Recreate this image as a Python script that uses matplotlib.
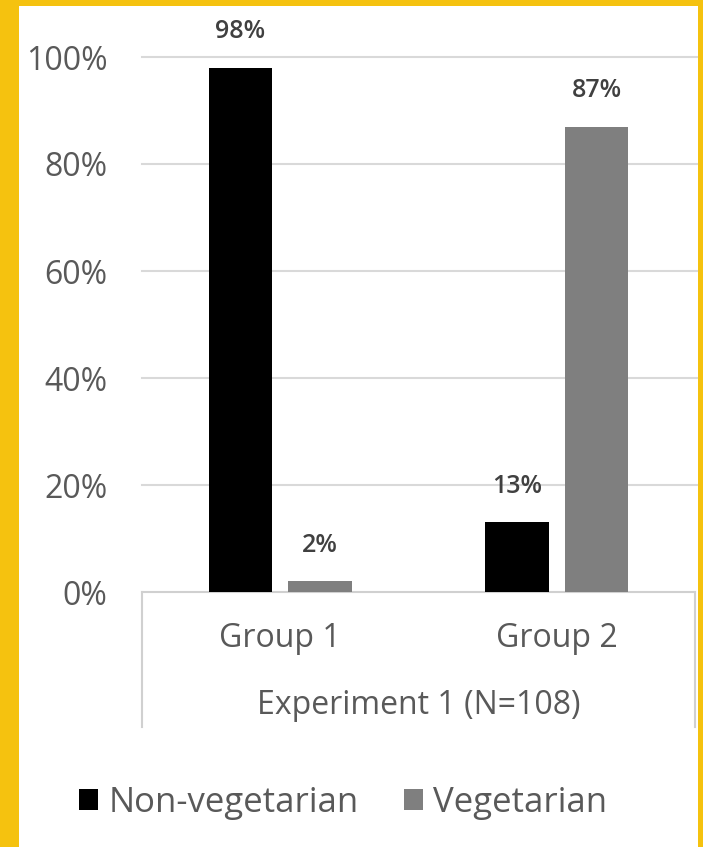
import matplotlib
matplotlib.use("Agg")
import matplotlib.pyplot as plt
from matplotlib.patches import Rectangle, Patch
import numpy as np

groups = ["Group 1", "Group 2"]
series_names = ["Non-vegetarian", "Vegetarian"]
non_veg = [98, 13]
veg = [2, 87]
y_ticks = [0, 20, 40, 60, 80, 100]
y_tick_labels = ["0%", "20%", "40%", "60%", "80%", "100%"]
experiment_label = "Experiment 1 (N=108)"

W, H = 703, 847
DPI = 100
fig = plt.figure(figsize=(W / DPI, H / DPI), dpi=DPI, facecolor="#F5C20F")
plt.rcParams["font.family"] = ["Open Sans", "DejaVu Sans"]

# white card inside the yellow frame
fig.patches.append(Rectangle((19 / W, 0), (698 - 19) / W, (847 - 6) / H,
                             transform=fig.transFigure, facecolor="white",
                             edgecolor="none", zorder=-10))

# axes placement (pixels)
x0, x1 = 142, 695
y_zero, y_top = 592, 57
ax = fig.add_axes([x0 / W, (H - y_zero) / H, (x1 - x0) / W, (y_zero - y_top) / H])
ax.set_facecolor("none")
ax.set_zorder(1)

text_col = "#595959"
label_col = "#404040"
colors = ["#000000", "#7f7f7f"]

x = np.arange(len(groups))
bw = 0.229
off = 0.144
b1 = ax.bar(x - off, non_veg, bw, color=colors[0], zorder=3)
b2 = ax.bar(x + off, veg, bw, color=colors[1], zorder=3)

for bars, vals in ((b1, non_veg), (b2, veg)):
    for rect, v in zip(bars, vals):
        ax.annotate(f"{v}%", (rect.get_x() + rect.get_width() / 2, v),
                    xytext=(0, 26), textcoords="offset points",
                    ha="center", va="center", fontsize=18, color=label_col,
                    fontweight="semibold", annotation_clip=False)

ax.set_xlim(-0.5, 1.5)
ax.set_ylim(0, 100)
ax.set_yticks(y_ticks)
ax.set_yticklabels(y_tick_labels)
ax.tick_params(axis="y", length=0, pad=25, labelsize=23, labelcolor=text_col)
ax.set_xticks([])
for s in ax.spines.values():
    s.set_visible(False)

# gridlines
for t in y_ticks[1:]:
    ax.plot([-0.5, 1.5 + 2 / 276.5], [t, t], color="#d9d9d9", lw=1.5,
            zorder=1, clip_on=False)
# baseline and category box
ax.plot([-0.5, 1.5], [0, 0], color="#d0d0d0", lw=1.5, zorder=2, clip_on=False)
box_bottom = (y_zero - 727) / (y_zero - y_top)
tr = ax.get_xaxis_transform()
for xv in (-0.5, 1.5):
    ax.plot([xv, xv], [0, box_bottom], color="#d0d0d0", lw=1.5,
            transform=tr, clip_on=False)

for xi, g in zip(x, groups):
    ax.text(xi, (y_zero - 638) / (y_zero - y_top), g, transform=tr,
            ha="center", va="center", fontsize=23, color=text_col)
ax.text(0.5, (y_zero - 705) / (y_zero - y_top), experiment_label, transform=tr,
        ha="center", va="center", fontsize=23, color=text_col)

handles = [Patch(facecolor=c, edgecolor="none") for c in colors]
fig.legend(handles, series_names, loc="center", bbox_to_anchor=(343 / W, 1 - 803 / H),
           ncol=2, frameon=False, fontsize=25, labelcolor=text_col,
           handlelength=0.55, handleheight=0.55, handletextpad=0.3,
           columnspacing=1.3)

fig.savefig("out.png", dpi=DPI, facecolor=fig.get_facecolor())
